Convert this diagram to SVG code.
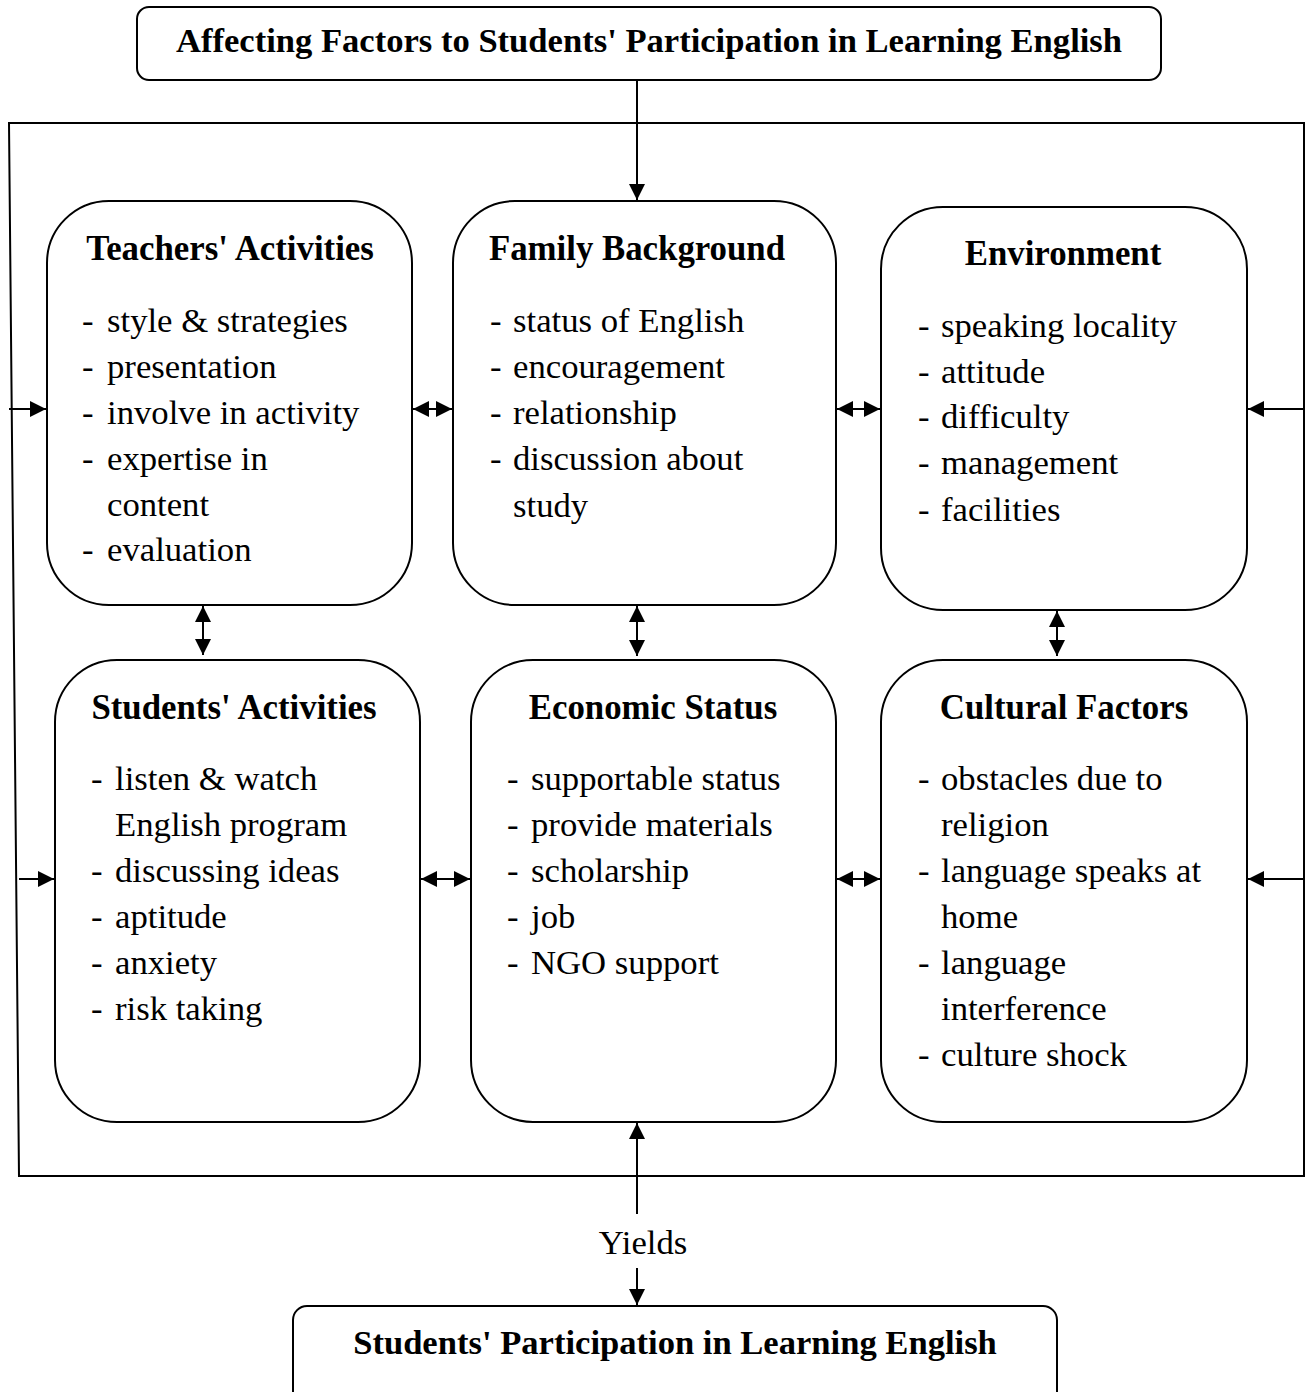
<svg xmlns="http://www.w3.org/2000/svg" width="1306" height="1392" viewBox="0 0 1306 1392">
<style>
.box{fill:#fff;stroke:#000;stroke-width:2}
.frame{fill:none;stroke:#000;stroke-width:2}
.ln{stroke:#000;stroke-width:2;fill:none}
.h{font-family:"Liberation Serif",serif;font-weight:bold;font-size:34.8px;text-anchor:middle}
.t{font-family:"Liberation Serif",serif;font-size:34.7px}
.tt{font-family:"Liberation Serif",serif;font-weight:bold;font-size:34.6px;text-anchor:middle}
</style>
<defs>
<marker id="ah" viewBox="0 0 10 10" refX="10" refY="5" markerWidth="16" markerHeight="16" markerUnits="userSpaceOnUse" orient="auto-start-reverse"><path d="M0,0 L10,5 L0,10 z" fill="#000"/></marker>
</defs>
<rect width="1306" height="1392" fill="#fff"/>
<g id="frame"><path class="frame" d="M9,123 L1304,123 L1304,1176 L19,1176 Z"/></g>
<g id="connectors">
<line class="ln" x1="637" y1="80" x2="637" y2="200" marker-end="url(#ah)"/>
<line class="ln" x1="9" y1="409" x2="46" y2="409" marker-end="url(#ah)"/>
<line class="ln" x1="19" y1="879" x2="54" y2="879" marker-end="url(#ah)"/>
<line class="ln" x1="1304" y1="409" x2="1248" y2="409" marker-end="url(#ah)"/>
<line class="ln" x1="1304" y1="879" x2="1248" y2="879" marker-end="url(#ah)"/>
<line class="ln" x1="413" y1="409" x2="452" y2="409" marker-start="url(#ah)" marker-end="url(#ah)"/>
<line class="ln" x1="837" y1="409" x2="880" y2="409" marker-start="url(#ah)" marker-end="url(#ah)"/>
<line class="ln" x1="421" y1="879" x2="470" y2="879" marker-start="url(#ah)" marker-end="url(#ah)"/>
<line class="ln" x1="837" y1="879" x2="880" y2="879" marker-start="url(#ah)" marker-end="url(#ah)"/>
<line class="ln" x1="203" y1="606" x2="203" y2="655" marker-start="url(#ah)" marker-end="url(#ah)"/>
<line class="ln" x1="637" y1="606" x2="637" y2="656" marker-start="url(#ah)" marker-end="url(#ah)"/>
<line class="ln" x1="1057" y1="611" x2="1057" y2="656" marker-start="url(#ah)" marker-end="url(#ah)"/>
<line class="ln" x1="637" y1="1214" x2="637" y2="1123" marker-end="url(#ah)"/>
<line class="ln" x1="637" y1="1268" x2="637" y2="1305" marker-end="url(#ah)"/>
<text class="t" x="643" y="1254" text-anchor="middle">Yields</text>
</g>
<g id="title">
<rect class="box" x="137" y="7" width="1024" height="73" rx="12"/>
<text class="tt" x="649" y="52">Affecting Factors to Students' Participation in Learning English</text>
</g>
<g id="teachers">
<rect class="box" x="47" y="201" width="365" height="404" rx="62"/>
<text class="h" x="230" y="260">Teachers' Activities</text>
<text class="t" x="82" y="332">-</text><text class="t" x="107" y="332">style &amp; strategies</text>
<text class="t" x="82" y="378">-</text><text class="t" x="107" y="378">presentation</text>
<text class="t" x="82" y="424">-</text><text class="t" x="107" y="424">involve in activity</text>
<text class="t" x="82" y="470">-</text><text class="t" x="107" y="470">expertise in</text>
<text class="t" x="107" y="516">content</text>
<text class="t" x="82" y="561">-</text><text class="t" x="107" y="561">evaluation</text>
</g>
<g id="family">
<rect class="box" x="453" y="201" width="383" height="404" rx="62"/>
<text class="h" x="637" y="260">Family Background</text>
<text class="t" x="490" y="332">-</text><text class="t" x="513" y="332">status of English</text>
<text class="t" x="490" y="378">-</text><text class="t" x="513" y="378">encouragement</text>
<text class="t" x="490" y="424">-</text><text class="t" x="513" y="424">relationship</text>
<text class="t" x="490" y="470">-</text><text class="t" x="513" y="470">discussion about</text>
<text class="t" x="513" y="517">study</text>
</g>
<g id="environment">
<rect class="box" x="881" y="207" width="366" height="403" rx="62"/>
<text class="h" x="1063" y="265">Environment</text>
<text class="t" x="918" y="337">-</text><text class="t" x="941" y="337">speaking locality</text>
<text class="t" x="918" y="383">-</text><text class="t" x="941" y="383">attitude</text>
<text class="t" x="918" y="428">-</text><text class="t" x="941" y="428">difficulty</text>
<text class="t" x="918" y="474">-</text><text class="t" x="941" y="474">management</text>
<text class="t" x="918" y="521">-</text><text class="t" x="941" y="521">facilities</text>
</g>
<g id="students">
<rect class="box" x="55" y="660" width="365" height="462" rx="62"/>
<text class="h" x="234" y="719">Students' Activities</text>
<text class="t" x="91" y="790">-</text><text class="t" x="115" y="790">listen &amp; watch</text>
<text class="t" x="115" y="836">English program</text>
<text class="t" x="91" y="882">-</text><text class="t" x="115" y="882">discussing ideas</text>
<text class="t" x="91" y="928">-</text><text class="t" x="115" y="928">aptitude</text>
<text class="t" x="91" y="974">-</text><text class="t" x="115" y="974">anxiety</text>
<text class="t" x="91" y="1020">-</text><text class="t" x="115" y="1020">risk taking</text>
</g>
<g id="economic">
<rect class="box" x="471" y="660" width="365" height="462" rx="62"/>
<text class="h" x="653" y="719">Economic Status</text>
<text class="t" x="507" y="790">-</text><text class="t" x="531" y="790">supportable status</text>
<text class="t" x="507" y="836">-</text><text class="t" x="531" y="836">provide materials</text>
<text class="t" x="507" y="882">-</text><text class="t" x="531" y="882">scholarship</text>
<text class="t" x="507" y="928">-</text><text class="t" x="531" y="928">job</text>
<text class="t" x="507" y="974">-</text><text class="t" x="531" y="974">NGO support</text>
</g>
<g id="cultural">
<rect class="box" x="881" y="660" width="366" height="462" rx="62"/>
<text class="h" x="1064" y="719">Cultural Factors</text>
<text class="t" x="918" y="790">-</text><text class="t" x="941" y="790">obstacles due to</text>
<text class="t" x="941" y="836">religion</text>
<text class="t" x="918" y="882">-</text><text class="t" x="941" y="882">language speaks at</text>
<text class="t" x="941" y="928">home</text>
<text class="t" x="918" y="974">-</text><text class="t" x="941" y="974">language</text>
<text class="t" x="941" y="1020">interference</text>
<text class="t" x="918" y="1066">-</text><text class="t" x="941" y="1066">culture shock</text>
</g>
<g id="result">
<rect class="box" x="293" y="1306" width="764" height="100" rx="14"/>
<text class="tt" x="675" y="1354">Students' Participation in Learning English</text>
</g>
</svg>
